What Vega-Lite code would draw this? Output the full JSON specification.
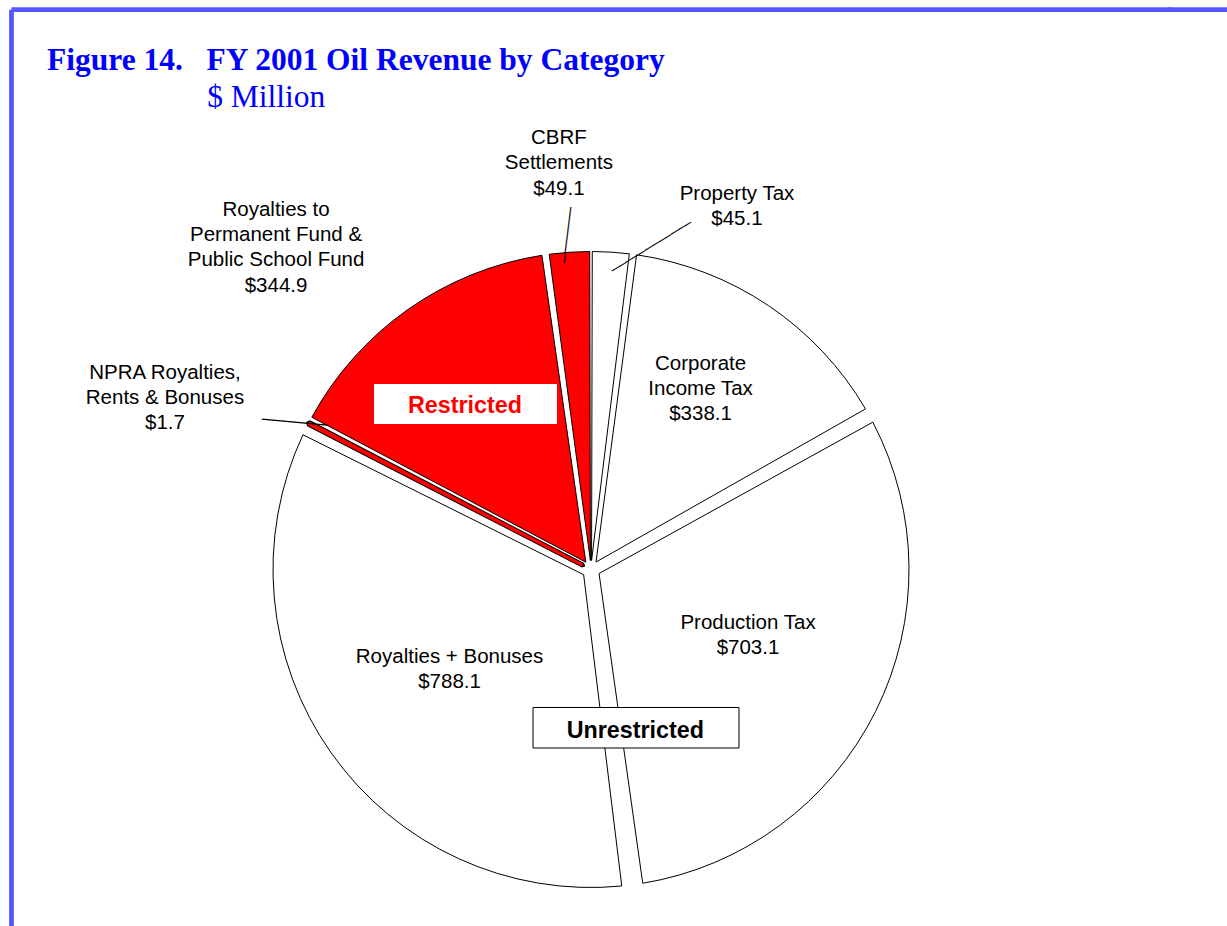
{
  "$schema": "https://vega.github.io/schema/vega-lite/v6.json",
  "autosize": "none",
  "width": 1159,
  "height": 1119.6,
  "padding": {"left": 11.5, "top": 9.7, "right": 56.5, "bottom": -203.3},
  "background": "#FFFFFF",
  "view": {"stroke": "#5555FF", "strokeWidth": 4.7, "strokeDash": [1159, 2278.6, 1119.6]},
  "title": {
    "text": "Figure 14.\u00a0\u00a0\u00a0FY 2001 Oil Revenue by Category",
    "subtitle": "\u200b\u00a0\u00a0\u00a0\u00a0\u00a0\u00a0\u00a0\u00a0\u00a0\u00a0\u00a0\u00a0\u00a0\u00a0\u00a0\u00a0\u00a0\u00a0\u00a0\u00a0\u200a$ Million",
    "anchor": "start",
    "frame": "group",
    "font": "Liberation Serif",
    "fontSize": 31.5,
    "fontWeight": "bold",
    "color": "#0000FF",
    "subtitleFont": "Liberation Serif",
    "subtitleFontSize": 31.5,
    "subtitleFontWeight": "normal",
    "subtitleColor": "#0000FF",
    "subtitlePadding": 5.5,
    "offset": -113.4,
    "dx": 35.5
  },
  "data": {
    "values": [
      {"category": "Property Tax", "value": 45.1, "group": "Unrestricted", "rank": 1, "label": ["Property Tax", "$45.1"]},
      {"category": "Corporate Income Tax", "value": 338.1, "group": "Unrestricted", "rank": 2, "label": ["Corporate", "Income Tax", "$338.1"]},
      {"category": "Production Tax", "value": 703.1, "group": "Unrestricted", "rank": 3, "label": ["Production Tax", "$703.1"]},
      {"category": "Royalties + Bonuses", "value": 788.1, "group": "Unrestricted", "rank": 4, "label": ["Royalties + Bonuses", "$788.1"]},
      {"category": "NPRA Royalties, Rents & Bonuses", "value": 1.7, "group": "Restricted", "rank": 5, "label": ["NPRA Royalties,", "Rents & Bonuses", "$1.7"]},
      {"category": "Royalties to Permanent Fund & Public School Fund", "value": 344.9, "group": "Restricted", "rank": 6, "label": ["Royalties to", "Permanent Fund &", "Public School Fund", "$344.9"]},
      {"category": "CBRF Settlements", "value": 49.1, "group": "Restricted", "rank": 7, "label": ["CBRF", "Settlements", "$49.1"]}
    ]
  },
  "layer": [
    {
      "transform": [{"filter": "datum.rank === 1"}],
      "mark": {"type": "point", "shape": "M577,-559.8H645", "size": 4, "filled": false, "fill": null, "stroke": "#5555FF", "strokeWidth": 4.7, "strokeCap": "butt", "opacity": 1},
      "encoding": {}
    },
    {
      "mark": {"type": "arc", "padAngle": 0.008, "innerRadius": 9, "outerRadius": 318, "stroke": "#000000", "strokeWidth": 1},
      "encoding": {
        "theta": {"field": "value", "type": "quantitative", "stack": true},
        "order": {"field": "rank", "type": "quantitative"},
        "fill": {"field": "group", "type": "nominal", "scale": {"domain": ["Restricted", "Unrestricted"], "range": ["#FF0000", "#FFFFFF"]}, "legend": null},
        "opacity": {"condition": {"test": "datum.category === 'Property Tax' || datum.category === 'CBRF Settlements'", "value": 1}, "value": 0}
      }
    },
    {
      "mark": {"type": "arc", "padAngle": 0.038, "innerRadius": 9, "outerRadius": 318, "stroke": "#000000", "strokeWidth": 1},
      "encoding": {
        "theta": {"field": "value", "type": "quantitative", "stack": true},
        "order": {"field": "rank", "type": "quantitative"},
        "fill": {"field": "group", "type": "nominal", "legend": null},
        "opacity": {"condition": {"test": "datum.category === 'Corporate Income Tax' || datum.category === 'Royalties to Permanent Fund & Public School Fund'", "value": 1}, "value": 0}
      }
    },
    {
      "mark": {"type": "arc", "padAngle": 0.057, "innerRadius": 9, "outerRadius": 318, "stroke": "#000000", "strokeWidth": 1},
      "encoding": {
        "theta": {"field": "value", "type": "quantitative", "stack": true},
        "order": {"field": "rank", "type": "quantitative"},
        "fill": {"field": "group", "type": "nominal", "legend": null},
        "opacity": {"condition": {"test": "datum.category === 'Production Tax'", "value": 1}, "value": 0}
      }
    },
    {
      "mark": {"type": "arc", "padAngle": 0.076, "innerRadius": 9, "outerRadius": 318, "stroke": "#000000", "strokeWidth": 1},
      "encoding": {
        "theta": {"field": "value", "type": "quantitative", "stack": true},
        "order": {"field": "rank", "type": "quantitative"},
        "fill": {"field": "group", "type": "nominal", "legend": null},
        "opacity": {"condition": {"test": "datum.category === 'Royalties + Bonuses'", "value": 1}, "value": 0}
      }
    },
    {
      "mark": {"type": "arc", "padAngle": 0, "innerRadius": 9, "outerRadius": 318, "stroke": "#000000", "strokeWidth": 5, "strokeJoin": "bevel"},
      "encoding": {
        "theta": {"field": "value", "type": "quantitative", "stack": true},
        "order": {"field": "rank", "type": "quantitative"},
        "fill": {"field": "group", "type": "nominal", "legend": null},
        "opacity": {"condition": {"test": "datum.category === 'NPRA Royalties, Rents & Bonuses'", "value": 1}, "value": 0}
      }
    },
    {
      "mark": {"type": "arc", "padAngle": 0, "innerRadius": 10, "outerRadius": 317, "stroke": "#FF0000", "strokeWidth": 3, "strokeJoin": "bevel"},
      "encoding": {
        "theta": {"field": "value", "type": "quantitative", "stack": true},
        "order": {"field": "rank", "type": "quantitative"},
        "fill": {"field": "group", "type": "nominal", "legend": null},
        "opacity": {"condition": {"test": "datum.category === 'NPRA Royalties, Rents & Bonuses'", "value": 1}, "value": 0}
      }
    },
    {
      "mark": {"type": "text", "font": "DejaVu Sans", "fontSize": 13.38, "align": "center", "baseline": "alphabetic", "fill": "#000000", "angle": 97.1, "radius": 335.3, "dx": 0.09, "dy": 5.4},
      "encoding": {
        "theta": {"field": "value", "type": "quantitative", "stack": true},
        "order": {"field": "rank", "type": "quantitative"},
        "text": {"condition": {"test": "datum.category === 'CBRF Settlements'", "value": "───────"}, "value": ""}
      }
    },
    {
      "mark": {"type": "text", "font": "DejaVu Sans", "fontSize": 12.87, "align": "center", "baseline": "alphabetic", "fill": "#000000", "angle": -31.8, "radius": 328.5, "dx": 31.4, "dy": 29.65},
      "encoding": {
        "theta": {"field": "value", "type": "quantitative", "stack": true},
        "order": {"field": "rank", "type": "quantitative"},
        "text": {"condition": {"test": "datum.category === 'Property Tax'", "value": "────────────"}, "value": ""}
      }
    },
    {
      "mark": {"type": "text", "font": "DejaVu Sans", "fontSize": 13.56, "align": "center", "baseline": "alphabetic", "fill": "#000000", "angle": 5.3, "radius": 331.6, "dx": -1.62, "dy": 9.92},
      "encoding": {
        "theta": {"field": "value", "type": "quantitative", "stack": true},
        "order": {"field": "rank", "type": "quantitative"},
        "text": {"condition": {"test": "datum.category === 'NPRA Royalties, Rents & Bonuses'", "value": "────────"}, "value": ""}
      }
    },
    {
      "transform": [{"filter": "datum.group === 'Restricted' && datum.rank === 6"}],
      "mark": {"type": "point", "shape": "M-217,-185.5H-34V-145.5H-217Z", "size": 4, "filled": true, "fill": "#FFFFFF", "strokeWidth": 0, "opacity": 1},
      "encoding": {}
    },
    {
      "transform": [{"filter": "datum.group === 'Unrestricted' && datum.rank === 3"}],
      "mark": {"type": "point", "shape": "M-58,138H148V178.5H-58Z", "size": 4, "filled": true, "fill": "#FFFFFF", "stroke": "#000000", "strokeWidth": 1, "opacity": 1},
      "encoding": {}
    },
    {
      "mark": {"type": "text", "font": "Liberation Sans", "fontSize": 23.3, "fontWeight": "bold", "align": "center", "baseline": "middle", "fill": "#FF0000", "radius": 208, "dx": -6.3, "dy": 6.9},
      "encoding": {
        "theta": {"field": "value", "type": "quantitative", "stack": true},
        "order": {"field": "rank", "type": "quantitative"},
        "text": {"condition": {"test": "datum.category === 'Royalties to Permanent Fund & Public School Fund'", "field": "group", "type": "nominal"}, "value": ""}
      }
    },
    {
      "mark": {"type": "text", "font": "Liberation Sans", "fontSize": 23.3, "fontWeight": "bold", "align": "center", "baseline": "middle", "fill": "#000000", "radius": 164, "dx": -102.5, "dy": 88.2},
      "encoding": {
        "theta": {"field": "value", "type": "quantitative", "stack": true},
        "order": {"field": "rank", "type": "quantitative"},
        "text": {"condition": {"test": "datum.category === 'Production Tax'", "field": "group", "type": "nominal"}, "value": ""}
      }
    },
    {
      "mark": {"type": "text", "font": "Liberation Sans", "fontSize": 20.5, "lineHeight": 25.3, "align": "center", "baseline": "middle", "fill": "#000000", "radius": 406, "dx": -4.5, "dy": -26.5},
      "encoding": {
        "theta": {"field": "value", "type": "quantitative", "stack": true},
        "order": {"field": "rank", "type": "quantitative"},
        "text": {"condition": {"test": "datum.category === 'CBRF Settlements'", "field": "label", "type": "nominal"}, "value": ""}
      }
    },
    {
      "mark": {"type": "text", "font": "Liberation Sans", "fontSize": 20.5, "lineHeight": 25.3, "align": "center", "baseline": "middle", "fill": "#000000", "radius": 363.5, "dx": 123.3, "dy": -12.65},
      "encoding": {
        "theta": {"field": "value", "type": "quantitative", "stack": true},
        "order": {"field": "rank", "type": "quantitative"},
        "text": {"condition": {"test": "datum.category === 'Property Tax'", "field": "label", "type": "nominal"}, "value": ""}
      }
    },
    {
      "mark": {"type": "text", "font": "Liberation Sans", "fontSize": 20.5, "lineHeight": 25.3, "align": "center", "baseline": "middle", "fill": "#000000", "radius": 393.5, "dx": -88.5, "dy": -37.95},
      "encoding": {
        "theta": {"field": "value", "type": "quantitative", "stack": true},
        "order": {"field": "rank", "type": "quantitative"},
        "text": {"condition": {"test": "datum.category === 'Royalties to Permanent Fund & Public School Fund'", "field": "label", "type": "nominal"}, "value": ""}
      }
    },
    {
      "mark": {"type": "text", "font": "Liberation Sans", "fontSize": 20.5, "lineHeight": 25.3, "align": "center", "baseline": "middle", "fill": "#000000", "radius": 372.8, "dx": -95, "dy": -25.3},
      "encoding": {
        "theta": {"field": "value", "type": "quantitative", "stack": true},
        "order": {"field": "rank", "type": "quantitative"},
        "text": {"condition": {"test": "datum.category === 'NPRA Royalties, Rents & Bonuses'", "field": "label", "type": "nominal"}, "value": ""}
      }
    },
    {
      "mark": {"type": "text", "font": "Liberation Sans", "fontSize": 20.5, "lineHeight": 25.3, "align": "center", "baseline": "middle", "fill": "#000000", "radius": 217.4, "dx": -11.9, "dy": -25.3},
      "encoding": {
        "theta": {"field": "value", "type": "quantitative", "stack": true},
        "order": {"field": "rank", "type": "quantitative"},
        "text": {"condition": {"test": "datum.category === 'Corporate Income Tax'", "field": "label", "type": "nominal"}, "value": ""}
      }
    },
    {
      "mark": {"type": "text", "font": "Liberation Sans", "fontSize": 20.5, "lineHeight": 25.3, "align": "center", "baseline": "middle", "fill": "#000000", "radius": 148.2, "dx": 24.4, "dy": -12.65},
      "encoding": {
        "theta": {"field": "value", "type": "quantitative", "stack": true},
        "order": {"field": "rank", "type": "quantitative"},
        "text": {"condition": {"test": "datum.category === 'Production Tax'", "field": "label", "type": "nominal"}, "value": ""}
      }
    },
    {
      "mark": {"type": "text", "font": "Liberation Sans", "fontSize": 20.5, "lineHeight": 25.3, "align": "center", "baseline": "middle", "fill": "#000000", "radius": 173.7, "dx": 0.4, "dy": -12.65},
      "encoding": {
        "theta": {"field": "value", "type": "quantitative", "stack": true},
        "order": {"field": "rank", "type": "quantitative"},
        "text": {"condition": {"test": "datum.category === 'Royalties + Bonuses'", "field": "label", "type": "nominal"}, "value": ""}
      }
    }
  ],
  "config": {
    "view": {"stroke": "#5555FF", "strokeWidth": 4.7, "strokeDash": [1159, 2278.6, 1119.6]},
    "style": {"view": {"stroke": "#5555FF", "strokeWidth": 4.7, "strokeDash": [1159, 2278.6, 1119.6]}}
  }
}
